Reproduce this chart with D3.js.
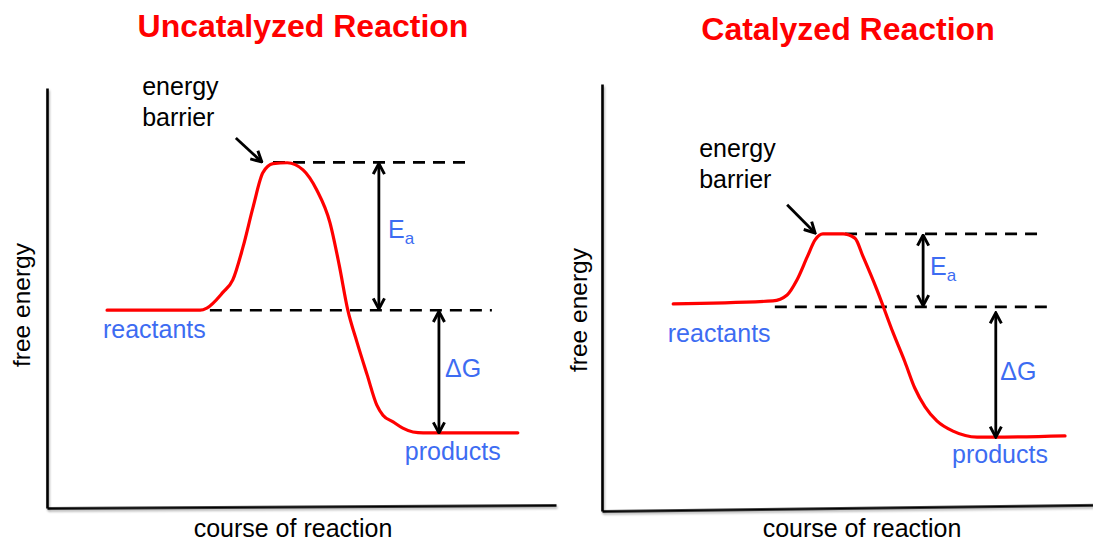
<!DOCTYPE html>
<html><head><meta charset="utf-8">
<script src="https://cdn.jsdelivr.net/npm/d3@7"></script>
<style>
body{margin:0;background:#fff}
svg{display:block}
text{font-family:"Liberation Sans",Arial,Helvetica,sans-serif}
</style>
</head><body>
<svg id="chart" width="1093" height="541"></svg>
<script>
// ---------- data ----------
const panelTitles = ["Uncatalyzed Reaction", "Catalyzed Reaction"];
const xAxisLabel = "course of reaction";
const yAxisLabel = "free energy";

// reaction progress (0-100) vs free energy (0-100)
const uncatProgress = [11.8, 30.1, 31.4, 34.6, 36.5, 38.5, 40.5, 42.4, 44.4, 47.2, 50.3, 53.0, 55.6, 57.4, 59.1, 60.9, 62.9, 64.8, 66.0, 68.0, 69.9, 71.9, 73.9, 92.5];
const uncatEnergy   = [47.1, 47.1, 47.6, 51.4, 54.3, 62.1, 71.7, 79.8, 82.0, 82.2, 80.5, 75.7, 67.9, 57.9, 47.1, 39.5, 31.7, 24.5, 22.1, 20.5, 19.0, 18.1, 17.9, 17.9];
const catProgress   = [14.5, 34.8, 37.7, 39.7, 41.8, 43.4, 45.0, 49.1, 51.5, 53.2, 56.0, 59.3, 61.7, 63.7, 65.8, 68.2, 71.5, 76.4, 79.6, 94.3];
const catEnergy     = [48.5, 49.2, 50.6, 54.1, 59.5, 63.5, 64.9, 64.9, 63.9, 59.5, 51.8, 41.7, 34.9, 28.8, 24.4, 21.1, 18.7, 17.3, 17.3, 17.6];

// energy levels [barrier, reactants, products]
const uncatLevels = [82.3, 47.1, 17.9];
const catLevels   = [64.9, 47.8, 17.3];

// dashed reference lines: [start, end] along progress
const uncatBarrierSpan  = [44.4, 82.5];
const uncatReactantSpan = [32.0, 87.4];
const catBarrierSpan    = [49.5, 88.6];
const catReactantSpan   = [35.2, 91.6];

// arrow positions along progress: [Ea, ΔG]
const uncatArrowX = [65.2, 77.0];
const catArrowX   = [65.4, 80.2];
const catDeltaGTop = 46.4;

// energy-barrier pointer [x0, y0, x1, y1]
const uncatPointer = [37.1, 88.1, 42.2, 82.4];
const catPointer   = [37.7, 71.7, 43.4, 65.1];

// label anchors [x, y]
const uncatLabelPos = {energy: [18.7, 98.3], reactants: [11.0, 40.5], products: [70.3, 11.4], ea: [67.0, 64.3], dg: [78.2, 31.2]};
const catLabelPos   = {energy: [19.8, 82.9], reactants: [13.4, 39.6], products: [71.3, 11.2], ea: [66.8, 55.3], dg: [81.1, 30.7]};

// ---------- layout ----------
const panels = [
  {title: panelTitles[0], titleX: 303, titleY: 37, xr: [47, 556], yr: [508, 88], tilt: -0.34, yLabX: 30, yLabY: 305, xLabX: 293,
   prog: uncatProgress, en: uncatEnergy, lv: uncatLevels, bs: uncatBarrierSpan, rs: uncatReactantSpan, ax: uncatArrowX, dgTop: null, ptr: uncatPointer, lp: uncatLabelPos},
  {title: panelTitles[1], titleX: 848, titleY: 40, xr: [602, 1093], yr: [511, 84], tilt: -0.72, yLabX: 587, yLabY: 310, xLabX: 862,
   prog: catProgress, en: catEnergy, lv: catLevels, bs: catBarrierSpan, rs: catReactantSpan, ax: catArrowX, dgTop: catDeltaGTop, ptr: catPointer, lp: catLabelPos}
];

const svg = d3.select("#chart");
const defs = svg.append("defs");
defs.append("filter").attr("id", "shadow").attr("filterUnits", "userSpaceOnUse")
  .attr("x", -3000).attr("y", -3000).attr("width", 6000).attr("height", 6000)
  .append("feDropShadow").attr("dx", 1).attr("dy", 2).attr("stdDeviation", 1.2)
  .attr("flood-color", "#000").attr("flood-opacity", 0.3);
defs.append("marker").attr("id", "head").attr("viewBox", "0 0 10 10")
  .attr("refX", 9).attr("refY", 5).attr("markerUnits", "userSpaceOnUse")
  .attr("markerWidth", 14).attr("markerHeight", 14).attr("orient", "auto-start-reverse")
  .append("path").attr("d", "M1.5,1 L9,5 L1.5,9").attr("fill", "none")
  .attr("stroke", "#000").attr("stroke-width", 2.1).attr("stroke-linejoin", "miter");

const RED = "#ff0000", BLUE = "#3d6cf2";

panels.forEach(p => {
  const x = d3.scaleLinear().domain([0, 100]).range(p.xr);
  const y = d3.scaleLinear().domain([0, 100]).range(p.yr);
  const g = svg.append("g");

  // title
  g.append("text").attr("x", p.titleX).attr("y", p.titleY).attr("text-anchor", "middle")
    .attr("font-size", 32).attr("font-weight", "bold").attr("fill", RED).text(p.title);

  // axes
  const yAxis = d3.axisLeft(y).ticks(0).tickSize(0).tickSizeOuter(0);
  const xAxis = d3.axisBottom(x).ticks(0).tickSize(0).tickSizeOuter(0);
  const ya = g.append("g").attr("transform", `translate(${p.xr[0]},0)`).call(yAxis);
  const xa = g.append("g").attr("transform", `translate(0,${p.yr[0]}) rotate(${p.tilt},${p.xr[0]},0)`).call(xAxis);
  [ya, xa].forEach(a => a.select(".domain").attr("stroke", "#000").attr("stroke-width", 2.6).attr("filter", "url(#shadow)"));

  // axis labels
  g.append("text").attr("transform", `translate(${p.yLabX},${p.yLabY}) rotate(-90)`)
    .attr("text-anchor", "middle").attr("font-size", 24.5).attr("fill", "#000").text(yAxisLabel);
  g.append("text").attr("x", p.xLabX).attr("y", 537).attr("text-anchor", "middle")
    .attr("font-size", 25).attr("fill", "#000").text(xAxisLabel);

  // dashed level lines
  const dash = (span, level) => g.append("line")
    .attr("x1", x(span[0])).attr("x2", x(span[1])).attr("y1", y(level)).attr("y2", y(level))
    .attr("stroke", "#000").attr("stroke-width", 2.6).attr("stroke-dasharray", "12,8");
  dash(p.bs, p.lv[0]);
  dash(p.rs, p.lv[1]);

  // energy curve
  const line = d3.line().x((d, i) => x(p.prog[i])).y((d, i) => y(p.en[i])).curve(d3.curveMonotoneX);
  g.append("path").datum(p.prog).attr("d", line).attr("fill", "none")
    .attr("stroke", RED).attr("stroke-width", 3.2).attr("stroke-linecap", "round");

  // double arrows
  const dbl = (xv, y0, y1) => g.append("line")
    .attr("x1", x(xv)).attr("x2", x(xv)).attr("y1", y(y0)).attr("y2", y(y1))
    .attr("stroke", "#000").attr("stroke-width", 2.8)
    .attr("marker-start", "url(#head)").attr("marker-end", "url(#head)");
  dbl(p.ax[0], p.lv[0] - 0.3, p.lv[1] + 0.3);
  dbl(p.ax[1], p.dgTop !== null ? p.dgTop : p.lv[1] - 0.3, p.lv[2]);

  // energy barrier pointer
  g.append("line").attr("x1", x(p.ptr[0])).attr("y1", y(p.ptr[1])).attr("x2", x(p.ptr[2])).attr("y2", y(p.ptr[3]))
    .attr("stroke", "#000").attr("stroke-width", 2.8).attr("marker-end", "url(#head)");

  // texts
  const t = g.append("text").attr("x", x(p.lp.energy[0])).attr("y", y(p.lp.energy[1]))
    .attr("font-size", 25).attr("fill", "#000");
  t.append("tspan").text("energy");
  t.append("tspan").attr("x", x(p.lp.energy[0])).attr("dy", 31).text("barrier");

  g.append("text").attr("x", x(p.lp.reactants[0])).attr("y", y(p.lp.reactants[1]))
    .attr("font-size", 25).attr("fill", BLUE).text("reactants");
  g.append("text").attr("x", x(p.lp.products[0])).attr("y", y(p.lp.products[1]))
    .attr("font-size", 25).attr("fill", BLUE).text("products");
  const ea = g.append("text").attr("x", x(p.lp.ea[0])).attr("y", y(p.lp.ea[1]))
    .attr("font-size", 25).attr("fill", BLUE);
  ea.append("tspan").text("E");
  ea.append("tspan").attr("font-size", 17).attr("dy", 6).text("a");
  g.append("text").attr("x", x(p.lp.dg[0])).attr("y", y(p.lp.dg[1]))
    .attr("font-size", 25).attr("fill", BLUE).text("ΔG");
});
</script>
</body></html>
